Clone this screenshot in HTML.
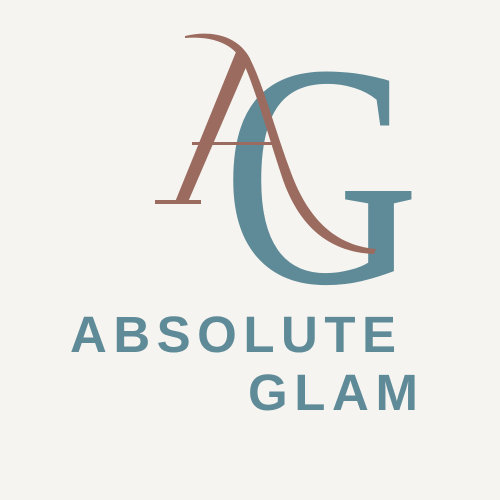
<!DOCTYPE html>
<html>
<head>
<meta charset="utf-8">
<style>
  html,body{margin:0;padding:0;background:#f6f4f0;}
  svg{display:block;}
</style>
</head>
<body>
<svg width="500" height="500" viewBox="0 0 500 500">
  <rect width="500" height="500" fill="#f6f4f0"/>
  <text x="222" y="282" font-family="Liberation Serif, serif" font-size="318" fill="#5f8b98" textLength="198" lengthAdjust="spacingAndGlyphs">G</text>
  <g fill="#9a6b5e">
    <path d="M236 52 L250 58 L188 202 L175 202 Z"/>
    <rect x="155" y="200" width="46" height="4"/>
    <rect x="192" y="142" width="80" height="3"/>
    <path d="M185 36 C210 30 235 35 248 55 C262 80 275 130 290 170 C305 212 330 245 376 249 L374 254 C325 252 298 222 283 180 C268 135 255 88 243 62 C232 42 210 36 185 38 Z"/>
  </g>
  <text x="70" y="352" font-family="Liberation Sans, sans-serif" font-weight="bold" font-size="51" fill="#5f8b98" textLength="326" lengthAdjust="spacing">ABSOLUTE</text>
  <text x="248" y="410" font-family="Liberation Sans, sans-serif" font-weight="bold" font-size="51" fill="#5f8b98" textLength="170" lengthAdjust="spacing">GLAM</text>
</svg>
</body>
</html>
